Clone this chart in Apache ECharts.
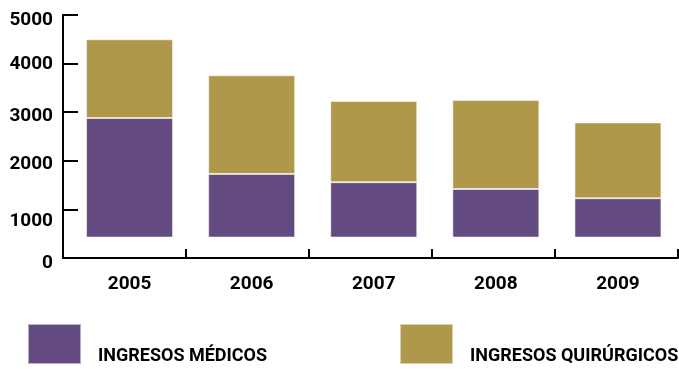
<!DOCTYPE html>
<html>
<head>
<meta charset="utf-8">
<script src="https://cdn.jsdelivr.net/npm/echarts@6/dist/echarts.min.js"></script>
<style>
  html, body { margin: 0; padding: 0; background: #ffffff; }
  #chart { width: 679px; height: 369px; }
</style>
</head>
<body>
<div id="chart"></div>
<script>
// Data
const years = ['2005', '2006', '2007', '2008', '2009'];
// bars do not start at 0 in the original: visible offset below each bar
const baseOffset = [420, 420, 420, 420, 420];
const medicos = [2460, 1310, 1140, 1000, 810];
const quirurgicos = [1620, 2030, 1670, 1830, 1560];
const yTickLabels = [0, 1000, 2000, 3000, 4000, 5000];

const FONT = 'Roboto, "Liberation Sans", sans-serif';
const PURPLE = '#634b82';
const GOLD = '#af9849';

// small vertical nudges of y labels as in the original
const yLabelNudge = { 0: 5, 1000: 12, 2000: 3, 3000: 4, 4000: 1, 5000: 5 };
const yRich = {};
yTickLabels.forEach(v => {
  yRich['v' + v] = {
    fontFamily: FONT, fontWeight: 'bold', fontSize: 19, color: '#000',
    padding: [yLabelNudge[v] * 2, 0, 0, 0]
  };
});

const legendText = {
  a: { fontFamily: FONT, fontWeight: 'bold', fontSize: 18, color: '#000', padding: [25, 0, 0, 12] }
};

const chart = echarts.init(document.getElementById('chart'), null, { renderer: 'canvas' });
chart.setOption({
  animation: false,
  backgroundColor: '#ffffff',
  grid: [
    { left: 63, right: 1, top: 15, bottom: 111, containLabel: false },
    { left: 68.5, width: 615, top: 15, bottom: 111, containLabel: false }
  ],
  legend: [
    {
      data: ['INGRESOS MÉDICOS'],
      left: 27, top: 323, padding: 0,
      itemWidth: 53, itemHeight: 40,
      icon: 'rect',
      selectedMode: false,
      formatter: n => '{a|' + n + '}',
      textStyle: { rich: legendText }
    },
    {
      data: ['INGRESOS QUIRÚRGICOS'],
      left: 399, top: 323, padding: 0,
      itemWidth: 53, itemHeight: 40,
      icon: 'rect',
      selectedMode: false,
      formatter: n => '{a|' + n + '}',
      textStyle: { rich: legendText }
    }
  ],
  xAxis: [
    {
      type: 'category', gridIndex: 0, data: years,
      boundaryGap: true,
      axisLine: { show: true, lineStyle: { color: '#000', width: 2 } },
      axisTick: { show: true, inside: true, length: 9, lineStyle: { color: '#000', width: 2 } },
      axisLabel: { show: false },
      splitLine: { show: false }
    },
    {
      type: 'category', gridIndex: 1, data: years,
      axisLine: { show: false },
      axisTick: { show: false },
      axisLabel: { show: true, margin: 17, fontFamily: FONT, fontWeight: 'bold', fontSize: 19, color: '#000' },
      splitLine: { show: false }
    }
  ],
  yAxis: [
    {
      type: 'value', gridIndex: 0, min: 0, max: 5000, interval: 1000,
      axisLine: { show: true, lineStyle: { color: '#000', width: 2 } },
      axisTick: { show: true, inside: true, length: 15, lineStyle: { color: '#000', width: 2 } },
      axisLabel: {
        show: true, margin: 10,
        formatter: v => '{v' + v + '|' + v + '}',
        rich: yRich
      },
      splitLine: { show: false }
    },
    {
      type: 'value', gridIndex: 1, min: 0, max: 5000, interval: 1000,
      show: false
    }
  ],
  series: [
    {
      name: 'base', type: 'bar', stack: 'total',
      xAxisIndex: 1, yAxisIndex: 1,
      barWidth: 87, silent: true,
      itemStyle: { color: 'rgba(0,0,0,0)' },
      data: baseOffset
    },
    {
      name: 'INGRESOS MÉDICOS', type: 'bar', stack: 'total',
      xAxisIndex: 1, yAxisIndex: 1,
      barWidth: 87,
      itemStyle: { color: PURPLE, borderColor: 'rgba(255,255,255,0.55)', borderWidth: 1 },
      data: medicos
    },
    {
      name: 'INGRESOS QUIRÚRGICOS', type: 'bar', stack: 'total',
      xAxisIndex: 1, yAxisIndex: 1,
      barWidth: 87,
      itemStyle: { color: GOLD, borderColor: 'rgba(255,255,255,0.55)', borderWidth: 1 },
      data: quirurgicos
    }
  ]
});
</script>
</body>
</html>
